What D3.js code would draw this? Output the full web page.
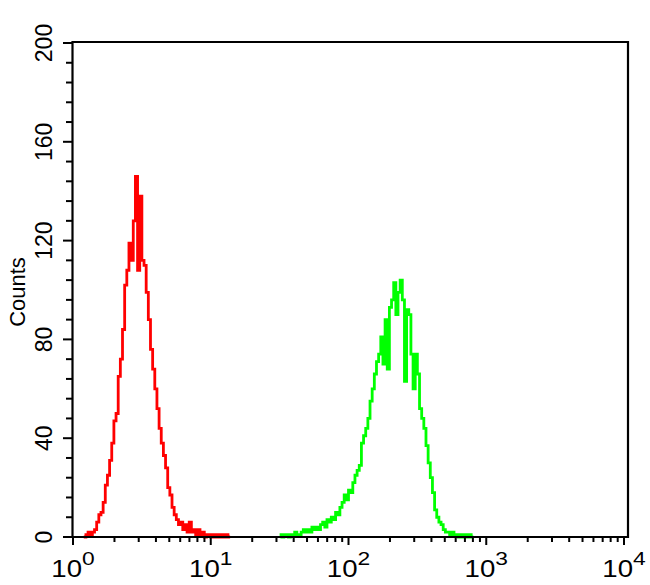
<!DOCTYPE html>
<html><head><meta charset="utf-8">
<script src="https://cdn.jsdelivr.net/npm/d3@7"></script>
<style>
body{margin:0;background:#fff}
svg{display:block}
text{font-family:"Liberation Sans",Arial,sans-serif;fill:#000}
</style>
</head><body>
<svg id="c" width="650" height="585"></svg>
<script>
// ---- data ----
const channelsPerDecade = 64;
const redStart = 5;
const redCounts = [0,1,2,1,2,3,6,9,10,14,21,25,31,38,47,50,65,72,84,102,108,119,112,128,146,108,138,112,110,99,88,76,68,60,52,44,38,33,28,20,17,12,9,7,5,6,3,5,2,6,2,3,1,3,1,2,0,1,1,0,1,0,1,0,1,0,1,0];
const greenStart = 96;
const greenCounts = [1,0,1,1,0,1,1,2,1,1,2,3,2,3,2,4,3,4,3,5,6,4,7,6,8,7,10,9,12,14,17,15,19,18,22,25,27,29,38,41,44,48,55,60,66,71,74,81,70,88,68,93,96,103,90,99,104,96,63,92,90,74,60,74,66,52,48,44,37,30,24,18,11,8,6,5,3,2,2,1,2,1,1,0,1,0,1,0,1,0];
const yTicks = [0,40,80,120,160,200];
const yMinorStep = 8;
const xDecades = [0,1,2,3,4];
const yLabel = "Counts";

// ---- layout ----
const svg = d3.select("#c");
const frame = {left:72.5, right:628, top:42, bottom:537};
const x = d3.scaleLog().domain([1,1e4]).range([73,624]);
const y = d3.scaleLinear().domain([0,200]).range([537,43]);

function hist(start, counts){
  const pts = counts.map((v,k)=>[x(Math.pow(10,(start+k)/channelsPerDecade)), y(v)]);
  const last = counts[counts.length-1];
  pts.push([x(Math.pow(10,(start+counts.length)/channelsPerDecade)), y(last)]);
  return d3.line().curve(d3.curveStepAfter)(pts);
}

svg.append("path").attr("d",hist(greenStart,greenCounts))
  .attr("fill","none").attr("stroke","#00ff00").attr("stroke-width",2.8);
svg.append("path").attr("d",hist(redStart,redCounts))
  .attr("fill","none").attr("stroke","#ff0000").attr("stroke-width",2.8);

// frame
svg.append("path")
  .attr("d",`M${frame.left},${frame.bottom}V${frame.top}H${frame.right}V${frame.bottom}H${frame.left}`)
  .attr("fill","none").attr("stroke","#000").attr("stroke-width",2.2);

// y axis ticks
const yMinor = d3.range(0,201,yMinorStep);
svg.append("g").selectAll("line").data(yMinor).join("line")
  .attr("x1",frame.left).attr("x2",d=>yTicks.includes(d)?63:66)
  .attr("y1",d=>y(d)).attr("y2",d=>y(d))
  .attr("stroke","#000").attr("stroke-width",2);
svg.append("g").selectAll("text").data(yTicks).join("text")
  .attr("transform",d=>`translate(52,${y(d)}) rotate(-90)`)
  .attr("text-anchor","middle").attr("font-size",23).text(d=>d);
svg.append("text").attr("transform","translate(25,292) rotate(-90)")
  .attr("text-anchor","middle").attr("font-size",22).text(yLabel);

// x axis ticks
const xMinor = [];
xDecades.slice(0,-1).forEach(e=>{ for(let m=2;m<10;m++) xMinor.push(m*Math.pow(10,e)); });
svg.append("g").selectAll("line").data(xMinor).join("line")
  .attr("x1",d=>x(d)).attr("x2",d=>x(d)).attr("y1",frame.bottom).attr("y2",frame.bottom+5)
  .attr("stroke","#000").attr("stroke-width",2);
svg.append("g").selectAll("line").data(xDecades).join("line")
  .attr("x1",d=>x(Math.pow(10,d))).attr("x2",d=>x(Math.pow(10,d)))
  .attr("y1",frame.bottom).attr("y2",frame.bottom+8)
  .attr("stroke","#000").attr("stroke-width",2);
const xl = svg.append("g").selectAll("g").data(xDecades).join("g")
  .attr("transform",d=>`translate(${x(Math.pow(10,d))},577) scale(1.2,1)`);
xl.append("text").attr("text-anchor","middle")
  .call(t=>{
    t.append("tspan").attr("font-size",23).text("10");
    t.append("tspan").attr("font-size",19).attr("dy",-12).text(d=>d);
  });
</script>
</body></html>
